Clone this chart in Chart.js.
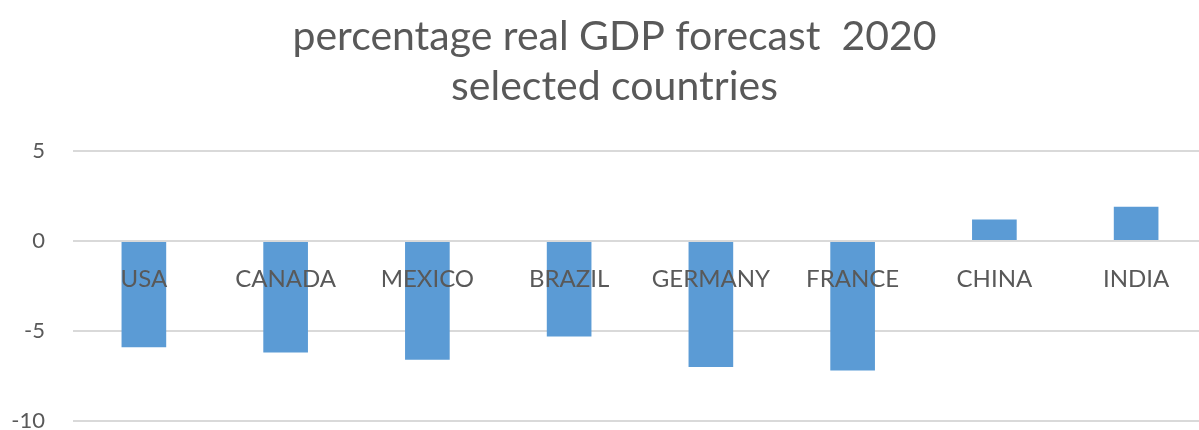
<!DOCTYPE html>
<html>
<head>
<meta charset="utf-8">
<script src="https://cdn.jsdelivr.net/npm/chart.js@4"></script>
<style>
  html, body { margin: 0; padding: 0; background: #fff; overflow: hidden; }
  #wrap { width: 1210px; height: 430px; }
</style>
</head>
<body>
<div id="wrap"><canvas id="gdpChart" width="1210" height="430"></canvas></div>
<script>
// percentage real GDP forecast 2020, selected countries
const countries = ['USA', 'CANADA', 'MEXICO', 'BRAZIL', 'GERMANY', 'FRANCE', 'CHINA', 'INDIA'];
const growth = [-5.9, -6.2, -6.6, -5.3, -7.0, -7.2, 1.2, 1.9];
const yTicks = [5, 0, -5, -10];
const titleLines = ['percentage real GDP forecast  2020', 'selected countries'];

const textColor = '#595959';
const gridColor = '#d9d9d9';
const fontFamily = 'Lato, "Open Sans", sans-serif';

// left padding only serves to center the title like the original;
// let the y labels use the full left margin so "-10" is not clipped
const widenYAxis = {
    id: 'widenYAxis',
    afterLayout: function(chart) {
        chart.scales.y.left = 0;
    }
};

const ctx = document.getElementById('gdpChart').getContext('2d');

new Chart(ctx, {
    type: 'bar',
    data: {
        labels: countries,
        datasets: [{
            label: 'GDP forecast',
            data: growth,
            backgroundColor: '#5b9bd5',
            borderWidth: 0,
            categoryPercentage: 1,
            barPercentage: 0.315
        }]
    },
    options: {
        responsive: false,
        animation: false,
        layout: { padding: { left: 22, right: 3, top: 0, bottom: 9 } },
        plugins: {
            legend: { display: false },
            tooltip: { enabled: false },
            title: {
                display: true,
                text: titleLines,
                color: textColor,
                font: { family: fontFamily, size: 41, weight: 'normal', lineHeight: 1.22 },
                padding: { top: 12, bottom: 39 }
            }
        },
        scales: {
            x: {
                position: { y: 0 },
                grid: { display: false, drawTicks: false },
                border: { display: false },
                ticks: {
                    z: 1, // category names sit on top of the bars
                    color: textColor,
                    font: { family: fontFamily, size: 24 },
                    padding: 24,
                    maxRotation: 0,
                    autoSkip: false
                }
            },
            y: {
                min: -10,
                max: 5,
                afterBuildTicks: function(scale) {
                    scale.ticks = yTicks.map(v => ({ value: v }));
                },
                afterFit: function(scale) {
                    scale.width = 51;
                    scale.paddingTop = 0;
                    scale.paddingBottom = 0;
                },
                grid: { color: gridColor, lineWidth: 2, drawTicks: false },
                border: { display: false },
                ticks: {
                    color: textColor,
                    font: { family: fontFamily, size: 22 },
                    padding: 28
                }
            }
        }
    },
    plugins: [widenYAxis]
});
</script>
</body>
</html>
